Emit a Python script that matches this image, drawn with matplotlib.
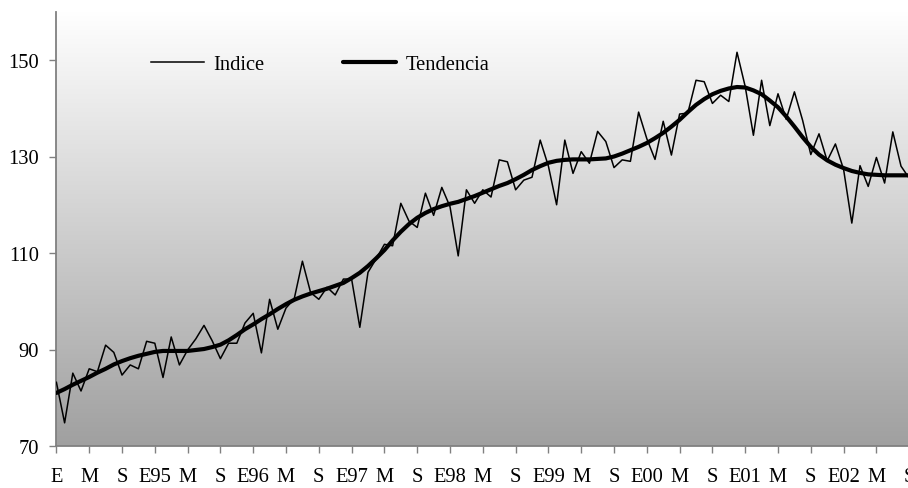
import numpy as np
import matplotlib
matplotlib.use("Agg")
import matplotlib.pyplot as plt
from matplotlib.colors import LinearSegmentedColormap

plt.rcParams['font.family'] = ['Liberation Serif', 'DejaVu Serif']

# Monthly data, Jan 1994 (E94) ... Sep 2002
indice = [
    83.2, 74.8, 85.1, 81.4, 86.0, 85.4, 90.9, 89.4, 84.7, 86.8, 86.0, 91.7,
    91.3, 84.2, 92.6, 86.8, 89.9, 92.2, 95.0, 91.8, 88.1, 91.3, 91.3, 95.5,
    97.5, 89.3, 100.4, 94.2, 98.6, 100.5, 108.3, 101.8, 100.4, 102.9, 101.3, 104.6,
    104.6, 94.6, 106.0, 108.8, 111.8, 111.5, 120.3, 116.6, 115.3, 122.4, 117.8, 123.6,
    119.6, 109.4, 123.1, 120.3, 123.1, 121.6, 129.3, 128.9, 123.1, 125.1, 125.7, 133.4,
    128.0, 120.0, 133.4, 126.5, 131.0, 128.6, 135.2, 133.1, 127.7, 129.3, 129.0, 139.2,
    133.7, 129.4, 137.3, 130.3, 138.8, 139.0, 145.8, 145.5, 141.0, 142.7, 141.4, 151.6,
    144.5, 134.4, 145.8, 136.4, 143.0, 137.7, 143.4, 137.5, 130.4, 134.7, 129.1, 132.6,
    127.3, 116.2, 128.1, 123.8, 129.8, 124.5, 135.1, 128.0, 125.5,
]
tendencia = [
    81.0, 81.8, 82.7, 83.5, 84.3, 85.2, 86.0, 86.9, 87.6, 88.2, 88.7, 89.1,
    89.5, 89.7, 89.7, 89.7, 89.7, 89.9, 90.1, 90.5, 91.0, 91.9, 93.0, 94.2,
    95.2, 96.3, 97.3, 98.4, 99.4, 100.3, 101.0, 101.6, 102.1, 102.6, 103.2, 103.8,
    104.8, 105.9, 107.3, 108.9, 110.6, 112.6, 114.4, 116.0, 117.3, 118.3, 119.1, 119.7,
    120.2, 120.6, 121.2, 121.8, 122.5, 123.2, 123.9, 124.5, 125.3, 126.2, 127.2, 128.0,
    128.7, 129.1, 129.3, 129.4, 129.4, 129.4, 129.5, 129.6, 130.0, 130.6, 131.3, 132.0,
    132.8, 133.8, 134.9, 136.2, 137.6, 139.2, 140.7, 141.9, 142.9, 143.6, 144.1, 144.4,
    144.3, 143.7, 142.9, 141.6, 140.2, 138.3, 136.2, 134.0, 132.0, 130.4, 129.2, 128.3,
    127.6, 127.0, 126.6, 126.3, 126.2, 126.1, 126.1, 126.1, 126.1,
]
tick_labels = ["E", "M", "S", "E95", "M", "S", "E96", "M", "S", "E97", "M", "S",
               "E98", "M", "S", "E99", "M", "S", "E00", "M", "S", "E01", "M", "S",
               "E02", "M", "S"]
y_ticks = [70, 90, 110, 130, 150]
y_range = (70, 160)

W, H = 908, 489
fig = plt.figure(figsize=(W / 100, H / 100), dpi=100)
x = np.arange(len(indice))
x_right = 105.0
left_px, right_px = 56.0, 56.0 + 8.2 * (x_right + 0.05)
top_px, bottom_px = 12.75, 447.0
ax = fig.add_axes([left_px / W, (H - bottom_px) / H,
                   (right_px - left_px) / W, (bottom_px - top_px) / H])

# gradient background
cmap = LinearSegmentedColormap.from_list("bg", ["#a0a0a0", "#ffffff"])
grad = np.linspace(0, 1, 256).reshape(-1, 1)
ax.imshow(grad, extent=[0, 1, 0, 1], transform=ax.transAxes, aspect='auto',
          cmap=cmap, origin='lower', zorder=0, interpolation='bilinear')

l1, = ax.plot(x, indice, color='black', lw=1.1, zorder=3, label='Indice')
l2, = ax.plot(x, tendencia, color='black', lw=3.0, zorder=4, label='Tendencia',
              solid_capstyle='round')

ax.set_xlim(-0.05, x_right)
ax.set_ylim(*y_range)
ax.set_yticks(y_ticks)
ax.set_xticks(np.arange(0, 4 * len(tick_labels), 4))
ax.set_xticklabels(tick_labels)

for s in ['top', 'right']:
    ax.spines[s].set_visible(False)
for s in ['left', 'bottom']:
    ax.spines[s].set_color('#808080')
    ax.spines[s].set_linewidth(1.3)
ax.tick_params(axis='both', direction='out', length=5, width=1, color='#808080',
               labelsize=14.8, labelcolor='black')
ax.tick_params(axis='x', pad=10)
ax.tick_params(axis='y', pad=7)

ax.legend(handles=[l1, l2], loc='center left', ncol=2, frameon=False,
          bbox_to_anchor=(151 / W, 1 - 65 / H), bbox_transform=fig.transFigure,
          fontsize=14.8, handlelength=2.6, handletextpad=0.45, columnspacing=3.8,
          borderpad=0, borderaxespad=0)

fig.savefig("out.png", dpi=100)
